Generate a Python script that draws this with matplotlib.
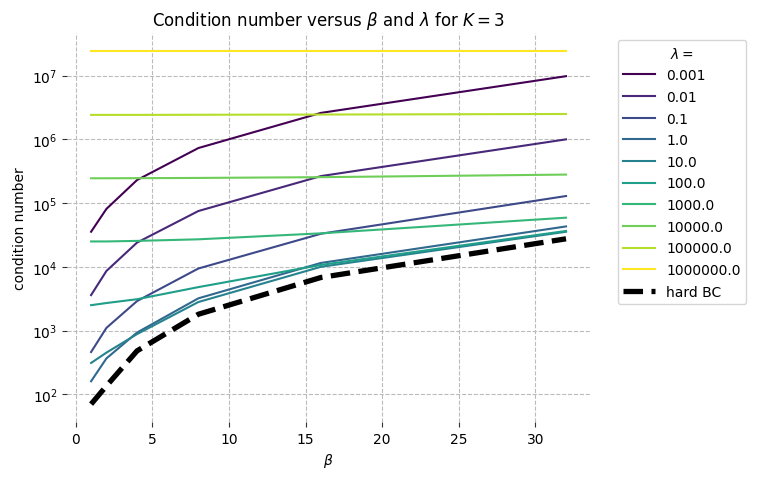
import matplotlib.pyplot as plt
import numpy as np

beta = [1, 2, 4, 8, 16, 32]
lambdas = ['0.001', '0.01', '0.1', '1.0', '10.0', '100.0', '1000.0',
           '10000.0', '100000.0', '1000000.0']

# condition number per lambda
cond_0001 = [3.55e4, 8.1e4, 2.3e5, 7.3e5, 2.6e6, 9.8e6]
cond_001 = [3.6e3, 8.6e3, 2.4e4, 7.5e4, 2.65e5, 1.0e6]
cond_01 = [4.6e2, 1.1e3, 2.9e3, 9.4e3, 3.3e4, 1.29e5]
cond_1 = [1.6e2, 3.65e2, 9.3e2, 3.2e3, 1.15e4, 4.3e4]
cond_10 = [3.1e2, 4.5e2, 8.8e2, 2.8e3, 1.0e4, 3.55e4]
cond_100 = [2.5e3, 2.7e3, 3.1e3, 4.8e3, 1.07e4, 3.65e4]
cond_1000 = [2.5e4, 2.5e4, 2.55e4, 2.7e4, 3.35e4, 5.9e4]
cond_1e4 = [2.45e5, 2.45e5, 2.46e5, 2.48e5, 2.55e5, 2.8e5]
cond_1e5 = [2.42e6, 2.42e6, 2.42e6, 2.43e6, 2.45e6, 2.5e6]
cond_1e6 = [2.45e7, 2.45e7, 2.45e7, 2.45e7, 2.45e7, 2.45e7]
cond_hard = [70, 135, 4.8e2, 1.8e3, 6.8e3, 2.75e4]

series = [cond_0001, cond_001, cond_01, cond_1, cond_10, cond_100,
          cond_1000, cond_1e4, cond_1e5, cond_1e6]

fig = plt.figure(figsize=(7.61, 4.81), dpi=100)
ax = fig.add_axes([0.0885, 0.121, 0.6865, 0.808])

colors = plt.cm.viridis(np.linspace(0, 1, len(series)))
for vals, lab, c in zip(series, lambdas, colors):
    ax.plot(beta, vals, color=c, lw=1.5, label=lab)
ax.plot(beta, cond_hard, 'k--', lw=3.8, label='hard BC')

ax.set_yscale('log')
ax.minorticks_off()
ax.set_yticks([1e2, 1e3, 1e4, 1e5, 1e6, 1e7])
ax.set_xticks([0, 5, 10, 15, 20, 25, 30])
for s in ax.spines.values():
    s.set_visible(False)
ax.grid(True, ls='--', color='#bbbbbb', lw=0.8)
ax.tick_params(colors='#333333', labelcolor='black')

ax.set_xlabel(r'$\beta$')
ax.set_ylabel('condition number')
ax.set_title(r'Condition number versus $\beta$ and $\lambda$ for $K=3$')
ax.legend(title=r'$\lambda =$', loc='upper left', bbox_to_anchor=(1.04, 1.0),
          handlelength=2.3, labelspacing=0.55)

plt.savefig('out.png', dpi=100)
